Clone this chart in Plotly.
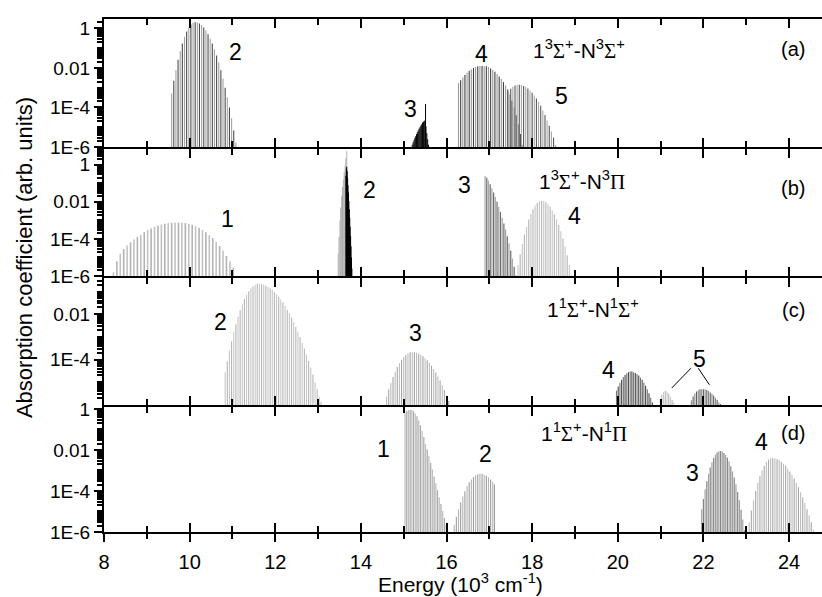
import plotly.graph_objects as go

# ---------------- data (energy in 10^3 cm^-1, absorption coefficient arb. units) -------------
# panel (a) 1^3Sigma+ - N^3Sigma+
a2_x = [9.58, 9.63, 9.68, 9.73, 9.78, 9.83, 9.88, 9.93, 9.98, 10.03, 10.08, 10.13, 10.18, 10.23, 10.28, 10.33,
        10.38, 10.43, 10.48, 10.53, 10.58, 10.63, 10.68, 10.73, 10.78, 10.83, 10.88, 10.93, 10.98, 11.03, 11.08]
a2_y = [5.1e-4, 2.2e-3, 7.9e-3, 2.6e-2, 7.1e-2, 0.17, 0.37, 0.68, 1.1, 1.55, 1.9, 2.0, 1.95, 1.75, 1.45, 1.1,
        0.78, 0.50, 0.30, 0.17, 8.7e-2, 4.2e-2, 1.9e-2, 7.6e-3, 2.9e-3, 1.0e-3, 3.3e-4, 9.8e-5, 2.8e-5, 6.9e-6, 1.7e-6]
a3_x = [15.20, 15.22, 15.24, 15.26, 15.28, 15.30, 15.32, 15.34, 15.36, 15.38, 15.40, 15.42, 15.44, 15.46, 15.48,
        15.50, 15.51, 15.52, 15.54, 15.56, 15.58]
a3_y = [1.3e-6, 1.7e-6, 2.2e-6, 2.8e-6, 3.5e-6, 4.5e-6, 5.6e-6, 6.9e-6, 8.5e-6, 1.0e-5, 1.2e-5, 1.4e-5, 1.7e-5,
        1.9e-5, 2.1e-5, 2.2e-5, 1.5e-4, 1.1e-5, 5.0e-6, 2.5e-6, 1.3e-6]
a4_x = [16.28, 16.33, 16.38, 16.43, 16.48, 16.53, 16.58, 16.63, 16.68, 16.73, 16.78, 16.83, 16.88, 16.93, 16.98,
        17.03, 17.08, 17.13, 17.18, 17.23, 17.28, 17.33, 17.38, 17.43, 17.48, 17.53, 17.58, 17.63, 17.68, 17.73, 17.78]
a4_y = [1.7e-3, 2.4e-3, 3.3e-3, 4.4e-3, 5.7e-3, 7.1e-3, 8.5e-3, 9.8e-3, 1.1e-2, 1.2e-2, 1.25e-2, 1.26e-2, 1.2e-2,
        1.2e-2, 1.1e-2, 9.3e-3, 7.8e-3, 6.3e-3, 4.9e-3, 3.7e-3, 2.7e-3, 1.9e-3, 1.3e-3, 8.1e-4, 4.5e-4, 2.2e-4,
        1.0e-4, 4.0e-5, 1.4e-5, 4.5e-6, 1.3e-6]
a5_x = [17.45, 17.50, 17.55, 17.60, 17.65, 17.70, 17.75, 17.80, 17.85, 17.90, 17.95, 18.00, 18.05, 18.10, 18.15,
        18.20, 18.25, 18.30, 18.35, 18.40, 18.45, 18.50, 18.55]
a5_y = [6.3e-4, 8.7e-4, 1.1e-3, 1.3e-3, 1.4e-3, 1.4e-3, 1.35e-3, 1.2e-3, 1.1e-3, 9.1e-4, 7.2e-4, 5.5e-4, 4.0e-4,
        2.8e-4, 1.9e-4, 1.2e-4, 7.1e-5, 4.1e-5, 2.2e-5, 1.2e-5, 6.0e-6, 2.9e-6, 1.3e-6]

# panel (b) 1^3Sigma+ - N^3Pi
b1_x = [8.22, 8.30, 8.38, 8.46, 8.54, 8.62, 8.70, 8.78, 8.86, 8.94, 9.02, 9.10, 9.18, 9.26, 9.34, 9.42, 9.50, 9.58,
        9.66, 9.74, 9.82, 9.90, 9.98, 10.06, 10.14, 10.22, 10.30, 10.38, 10.46, 10.54, 10.62, 10.70, 10.78, 10.86,
        10.94, 11.02]
b1_y = [1.6e-6, 6.3e-6, 1.6e-5, 2.8e-5, 4.5e-5, 6.6e-5, 9.3e-5, 1.3e-4, 1.7e-4, 2.3e-4, 3.0e-4, 3.7e-4, 4.5e-4,
        5.2e-4, 6.0e-4, 6.6e-4, 7.1e-4, 7.4e-4, 7.6e-4, 7.6e-4, 7.4e-4, 7.1e-4, 6.5e-4, 5.8e-4, 4.9e-4, 4.0e-4,
        3.1e-4, 2.3e-4, 1.6e-4, 1.1e-4, 6.9e-5, 4.2e-5, 2.3e-5, 1.2e-5, 6.0e-6, 2.8e-6]
b2l_x = [13.47, 13.49, 13.51, 13.53, 13.55, 13.57, 13.59, 13.61, 13.63, 13.65, 13.67]
b2l_y = [1.6e-5, 1.3e-4, 1.0e-3, 5.0e-3, 2.0e-2, 6.3e-2, 0.16, 0.4, 0.89, 2.2, 5.6]
b2d_x = [13.65, 13.66, 13.67, 13.68, 13.69, 13.70, 13.71, 13.72, 13.73, 13.74, 13.75, 13.76, 13.77, 13.78, 13.79]
b2d_y = [0.25, 0.63, 0.79, 0.45, 0.2, 7.9e-2, 3.2e-2, 1.1e-2, 4.0e-3, 1.4e-3, 4.5e-4, 1.4e-4, 4.0e-5, 1.0e-5, 2.5e-6]
b3_x = [16.90, 16.94, 16.98, 17.02, 17.06, 17.10, 17.14, 17.18, 17.22, 17.26, 17.30, 17.34, 17.38, 17.42, 17.46,
        17.50, 17.54, 17.58, 17.62]
b3_y = [0.25, 0.2, 0.14, 8.9e-2, 5.4e-2, 3.2e-2, 1.8e-2, 1.0e-2, 5.4e-3, 2.8e-3, 1.4e-3, 6.8e-4, 3.2e-4, 1.4e-4,
        5.8e-5, 2.3e-5, 8.7e-6, 3.2e-6, 1.1e-6]
b4_x = [17.67, 17.72, 17.77, 17.82, 17.87, 17.92, 17.97, 18.02, 18.07, 18.12, 18.17, 18.22, 18.27, 18.32, 18.37,
        18.42, 18.47, 18.52, 18.57, 18.62, 18.67, 18.72, 18.77, 18.82, 18.87, 18.92]
b4_y = [3.8e-6, 1.5e-5, 5.4e-5, 1.7e-4, 4.5e-4, 1.1e-3, 2.2e-3, 4.0e-3, 6.3e-3, 8.8e-3, 1.07e-2, 1.15e-2, 1.1e-2,
        9.5e-3, 7.5e-3, 5.4e-3, 3.5e-3, 2.1e-3, 1.15e-3, 5.6e-4, 2.6e-4, 1.05e-4, 3.9e-5, 1.3e-5, 4.1e-6, 1.1e-6]

# panel (c) 1^1Sigma+ - N^1Sigma+
c2_x = [10.83, 10.88, 10.93, 10.98, 11.03, 11.08, 11.13, 11.18, 11.23, 11.28, 11.33, 11.38, 11.43, 11.48, 11.53,
        11.58, 11.63, 11.68, 11.73, 11.78, 11.83, 11.88, 11.93, 11.98, 12.03, 12.08, 12.13, 12.18, 12.23, 12.28,
        12.33, 12.38, 12.43, 12.48, 12.53, 12.58, 12.63, 12.68, 12.73, 12.78, 12.83, 12.88, 12.93, 12.98, 13.03, 13.07]
c2_y = [2.8e-5, 8.5e-5, 2.5e-4, 6.5e-4, 1.6e-3, 3.6e-3, 7.8e-3, 1.5e-2, 2.8e-2, 4.7e-2, 7.2e-2, 0.105, 0.14, 0.17,
        0.20, 0.22, 0.22, 0.21, 0.20, 0.18, 0.16, 0.14, 0.12, 9.7e-2, 7.7e-2, 6.0e-2, 4.5e-2, 3.3e-2, 2.4e-2, 1.6e-2,
        1.1e-2, 7.1e-3, 4.6e-3, 2.8e-3, 1.7e-3, 9.8e-4, 5.6e-4, 3.1e-4, 1.7e-4, 8.7e-5, 4.5e-5, 2.2e-5, 1.0e-5,
        4.9e-6, 2.2e-6, 1.4e-6]
c3_x = [14.60, 14.65, 14.70, 14.75, 14.80, 14.85, 14.90, 14.95, 15.00, 15.05, 15.10, 15.15, 15.20, 15.25, 15.30,
        15.35, 15.40, 15.45, 15.50, 15.55, 15.60, 15.65, 15.70, 15.75, 15.80, 15.85, 15.90, 15.95, 16.00, 16.05]
c3_y = [2.4e-6, 4.9e-6, 9.5e-6, 1.7e-5, 2.9e-5, 4.7e-5, 6.9e-5, 9.8e-5, 1.3e-4, 1.6e-4, 1.9e-4, 2.1e-4, 2.1e-4,
        2.1e-4, 2.0e-4, 1.8e-4, 1.6e-4, 1.4e-4, 1.15e-4, 9.3e-5, 7.1e-5, 5.4e-5, 3.9e-5, 2.7e-5, 1.8e-5, 1.2e-5,
        7.4e-6, 4.6e-6, 2.7e-6, 1.5e-6]
c4_x = [19.97, 20.01, 20.05, 20.09, 20.13, 20.17, 20.21, 20.25, 20.29, 20.33, 20.37, 20.41, 20.45, 20.49, 20.53,
        20.57, 20.61, 20.65, 20.69, 20.73, 20.77, 20.81]
c4_y = [4.3e-6, 6.5e-6, 9.5e-6, 1.3e-5, 1.7e-5, 2.1e-5, 2.5e-5, 2.8e-5, 3.0e-5, 3.0e-5, 2.8e-5, 2.6e-5, 2.3e-5,
        2.0e-5, 1.6e-5, 1.3e-5, 9.6e-6, 7.0e-6, 4.9e-6, 3.3e-6, 2.1e-6, 1.3e-6]
c5a_x = [20.99, 21.03, 21.07, 21.11, 21.15, 21.19, 21.23, 21.27, 21.31]
c5a_y = [1.8e-6, 2.8e-6, 3.8e-6, 4.3e-6, 3.9e-6, 3.2e-6, 2.4e-6, 1.7e-6, 1.3e-6]
c5b_x = [21.72, 21.76, 21.80, 21.84, 21.88, 21.92, 21.96, 22.00, 22.04, 22.08, 22.12, 22.16, 22.20, 22.24, 22.28,
         22.32, 22.36, 22.40]
c5b_y = [1.6e-6, 2.4e-6, 3.2e-6, 3.9e-6, 4.5e-6, 4.9e-6, 5.0e-6, 5.0e-6, 4.9e-6, 4.6e-6, 4.2e-6, 3.6e-6, 3.1e-6,
         2.6e-6, 2.1e-6, 1.7e-6, 1.3e-6, 1.1e-6]

# panel (d) 1^1Sigma+ - N^1Pi
d1_x = [15.03, 15.07, 15.11, 15.15, 15.19, 15.23, 15.27, 15.31, 15.35, 15.39, 15.43, 15.47, 15.51, 15.55, 15.59,
        15.63, 15.67, 15.71, 15.75, 15.79, 15.83, 15.87, 15.91, 15.95, 15.99, 16.03]
d1_y = [0.63, 0.79, 0.87, 0.89, 0.87, 0.76, 0.60, 0.43, 0.28, 0.16, 8.3e-2, 4.2e-2, 1.9e-2, 1.05e-2, 5.0e-3,
        2.3e-3, 1.1e-3, 5.1e-4, 2.4e-4, 1.1e-4, 5.0e-5, 2.3e-5, 1.05e-5, 4.8e-6, 2.2e-6, 1.1e-6]
d2_x = [16.18, 16.23, 16.28, 16.33, 16.38, 16.43, 16.48, 16.53, 16.58, 16.63, 16.68, 16.73, 16.78, 16.83, 16.88,
        16.93, 16.98, 17.03, 17.08, 17.12]
d2_y = [2.2e-6, 5.6e-6, 1.3e-5, 2.7e-5, 5.4e-5, 9.8e-5, 1.7e-4, 2.6e-4, 3.6e-4, 4.8e-4, 5.9e-4, 6.6e-4, 6.9e-4,
        6.8e-4, 6.2e-4, 5.5e-4, 4.6e-4, 3.6e-4, 2.7e-4, 2.1e-4]
d3_x = [21.96, 22.00, 22.04, 22.08, 22.12, 22.16, 22.20, 22.24, 22.28, 22.32, 22.36, 22.40, 22.44, 22.48, 22.52,
        22.56, 22.60, 22.64, 22.68, 22.72, 22.76, 22.80, 22.84, 22.88, 22.92, 22.96]
d3_y = [1.3e-5, 4.1e-5, 1.2e-4, 3.0e-4, 6.8e-4, 1.4e-3, 2.5e-3, 4.0e-3, 5.8e-3, 7.5e-3, 8.7e-3, 8.9e-3, 8.3e-3,
        7.1e-3, 5.6e-3, 4.1e-3, 2.7e-3, 1.6e-3, 8.9e-4, 4.5e-4, 2.1e-4, 8.9e-5, 3.5e-5, 1.2e-5, 4.1e-6, 1.2e-6]
d4_x = [23.07, 23.12, 23.17, 23.22, 23.27, 23.32, 23.37, 23.42, 23.47, 23.52, 23.57, 23.62, 23.67, 23.72, 23.77,
        23.82, 23.87, 23.92, 23.97, 24.02, 24.07, 24.12, 24.17, 24.22, 24.27, 24.32, 24.37, 24.42, 24.47, 24.52, 24.57]
d4_y = [3.0e-6, 1.1e-5, 3.5e-5, 1.0e-4, 2.5e-4, 5.4e-4, 1.0e-3, 1.7e-3, 2.6e-3, 3.4e-3, 3.9e-3, 4.0e-3, 3.8e-3,
        3.5e-3, 3.1e-3, 2.6e-3, 2.1e-3, 1.7e-3, 1.2e-3, 8.9e-4, 6.0e-4, 4.0e-4, 2.5e-4, 1.5e-4, 8.7e-5, 4.8e-5,
        2.6e-5, 1.3e-5, 6.3e-6, 3.0e-6, 1.3e-6]

# leader lines for label "5" in panel (c)
c5_lead_x = [[21.71, 21.26], [21.88, 22.14]]
c5_lead_y = [[4.2e-5, 5.6e-6], [4.2e-5, 7.8e-6]]

# y tick labels
ytick_vals = [1e-6, 1e-4, 1e-2, 1]
ytick_text = ["1E-6", "1E-4", "0.01", "1"]

BASE = 1e-6
FONT = "Liberation Sans, Arial, sans-serif"

# (panel index, x, y, colors (even, odd sticks), stick width)
bands = [
    (1, a2_x, a2_y, ("#a3a3a3", "#4d4d4d"), 1.1),
    (1, a4_x, a4_y, ("#9a9a9a", "#404040"), 1.1),
    (1, a5_x, a5_y, ("#a8a8a8", "#5a5a5a"), 1.1),
    (1, a3_x, a3_y, ("#000000", "#000000"), 1.0),
    (2, b1_x, b1_y, ("#c2c2c2", "#b2b2b2"), 1.6),
    (2, b2l_x, b2l_y, ("#b8b8b8", "#a8a8a8"), 1.0),
    (2, b2d_x, b2d_y, ("#000000", "#000000"), 1.0),
    (2, b3_x, b3_y, ("#a8a8a8", "#6a6a6a"), 1.2),
    (2, b4_x, b4_y, ("#cacaca", "#bababa"), 1.2),
    (3, c2_x, c2_y, ("#c8c8c8", "#b6b6b6"), 1.1),
    (3, c3_x, c3_y, ("#bdbdbd", "#a6a6a6"), 1.1),
    (3, c4_x, c4_y, ("#757575", "#4a4a4a"), 1.1),
    (3, c5a_x, c5a_y, ("#cacaca", "#b8b8b8"), 1.1),
    (3, c5b_x, c5b_y, ("#8a8a8a", "#606060"), 1.1),
    (4, d1_x, d1_y, ("#bebebe", "#a8a8a8"), 1.2),
    (4, d2_x, d2_y, ("#b4b4b4", "#9c9c9c"), 1.1),
    (4, d3_x, d3_y, ("#a2a2a2", "#858585"), 1.2),
    (4, d4_x, d4_y, ("#bebebe", "#a8a8a8"), 1.1),
]

fig = go.Figure()

def axname(i, kind):
    return kind if i == 1 else f"{kind}{i}"

for panel, xs, ys, cols, w in bands:
    for parity in (0, 1):
        X, Y = [], []
        for k, (xv, yv) in enumerate(zip(xs, ys)):
            if k % 2 == parity:
                X += [xv, xv, None]
                Y += [BASE, yv, None]
        fig.add_trace(go.Scatter(x=X, y=Y, mode="lines", line=dict(color=cols[parity], width=w),
                                 xaxis=axname(panel, "x"), yaxis=axname(panel, "y"),
                                 showlegend=False, hoverinfo="skip"))

for lx, ly in zip(c5_lead_x, c5_lead_y):
    fig.add_trace(go.Scatter(x=lx, y=ly, mode="lines", line=dict(color="black", width=1),
                             xaxis="x3", yaxis="y3", showlegend=False, hoverinfo="skip"))

# empty trace to activate the bottom labelled axis
fig.add_trace(go.Scatter(x=[], y=[], xaxis="x5", yaxis="y4", showlegend=False, hoverinfo="skip"))

XR = [8, 24.77]
H = 513.0
# 2px gaps so that the (outside-drawn) axis lines of neighbouring panels coincide
domains = {1: [385 / H, 1.0], 2: [256 / H, 383 / H], 3: [127 / H, 254 / H], 4: [0.0, 125 / H]}
yranges = {1: [-6, 0.47], 2: [-6, 0.85], 3: [-6, -0.4], 4: [-6, 0.09]}

minor_vals = [m * 10.0 ** e for e in range(-6, 1) for m in range(1, 10) if not (m == 1 and e % 2 == 0)]

layout = dict(width=822, height=597, margin=dict(l=104, r=0, t=19, b=65),
              paper_bgcolor="white", plot_bgcolor="white",
              font=dict(family=FONT, color="black"))

for i in range(1, 5):
    xa = dict(range=XR, tick0=8, dtick=2, ticks="inside", ticklen=9, tickwidth=1.5, tickcolor="black",
              showline=True, linecolor="black", linewidth=2, mirror="ticks", showgrid=False,
              zeroline=False, showticklabels=False, anchor=axname(i, "y"),
              minor=dict(tick0=8, dtick=1, ticks="inside", ticklen=6, tickwidth=1.5, tickcolor="black"))
    if i == 3:
        tv, tt = ytick_vals[1:], ytick_text[1:]
    else:
        tv, tt = ytick_vals, ytick_text
    ya = dict(type="log", range=yranges[i], domain=domains[i], anchor=axname(i, "x"),
              tickmode="array", tickvals=tv, ticktext=tt,
              ticks="outside", ticklen=8, tickwidth=1.5, tickcolor="black",
              showline=True, linecolor="black", linewidth=2, mirror=False,
              showgrid=False, zeroline=False, tickfont=dict(size=19, family=FONT),
              minor=dict(tickmode="array", tickvals=minor_vals, ticks="outside", ticklen=5,
                         tickwidth=1.5, tickcolor="black"))
    layout[axname(i, "xaxis")] = xa
    layout[axname(i, "yaxis")] = ya

layout["xaxis5"] = dict(overlaying="x4", anchor="y4", range=XR, tick0=8, dtick=2, ticks="outside", ticklen=9,
                        tickwidth=1.5, tickcolor="black", showline=False, showgrid=False, zeroline=False,
                        tickfont=dict(size=20, family=FONT), ticklabelstandoff=3,
                        minor=dict(tick0=8, dtick=1, ticks="outside", ticklen=6, tickwidth=1.5, tickcolor="black"))

SIG = "<span style='font-family:Liberation Serif'>&#931;</span>"
PI = "<span style='font-family:Liberation Serif'>&#928;</span>"

labels = [
    # (panel, x, log10 y, text, size)
    (1, 11.08, -1.19, "2", 23), (1, 15.15, -4.08, "3", 23), (1, 16.82, -1.31, "4", 23), (1, 18.69, -3.40, "5", 23),
    (1, 19.10, -1.05, f"1<sup>3</sup>{SIG}<sup>+</sup>-N<sup>3</sup>{SIG}<sup>+</sup>", 21), (1, 24.10, -1.05, "(a)", 20),
    (2, 10.89, -2.95, "1", 23), (2, 14.21, -1.36, "2", 23), (2, 16.42, -1.09, "3", 23), (2, 19.00, -2.78, "4", 23),
    (2, 19.17, -0.83, f"1<sup>3</sup>{SIG}<sup>+</sup>-N<sup>3</sup>{PI}", 21), (2, 24.10, -1.27, "(b)", 20),
    (3, 10.71, -2.36, "2", 23), (3, 15.28, -2.83, "3", 23), (3, 19.78, -4.47, "4", 23), (3, 21.90, -3.95, "5", 23),
    (3, 19.43, -1.75, f"1<sup>1</sup>{SIG}<sup>+</sup>-N<sup>1</sup>{SIG}<sup>+</sup>", 21), (3, 24.10, -1.82, "(c)", 20),
    (4, 14.52, -1.94, "1", 23), (4, 16.91, -2.20, "2", 23), (4, 21.74, -3.13, "3", 23), (4, 23.36, -1.62, "4", 23),
    (4, 19.20, -1.17, f"1<sup>1</sup>{SIG}<sup>+</sup>-N<sup>1</sup>{PI}", 21), (4, 24.10, -1.20, "(d)", 20),
]
ann = []
for panel, xv, yv, t, s in labels:
    ann.append(dict(x=xv, y=yv, xref=axname(panel, "x"), yref=axname(panel, "y"), text=t, showarrow=False,
                    xanchor="center", yanchor="middle", font=dict(size=s, family=FONT, color="black")))
ann.append(dict(x=-0.1114, y=0.534, xref="paper", yref="paper", text="Absorption coefficient (arb. units)",
                textangle=-90, showarrow=False, xanchor="center", yanchor="middle",
                font=dict(size=22, family=FONT, color="black")))
ann.append(dict(x=0.497, y=-0.1265, xref="paper", yref="paper",
                text="Energy (10<sup>3</sup> cm<sup>-1</sup>)", showarrow=False, xanchor="center",
                yanchor="bottom", borderpad=0, font=dict(size=21, family=FONT, color="black")))
layout["annotations"] = ann

fig.update_layout(**layout)
fig.write_html("out.html")
